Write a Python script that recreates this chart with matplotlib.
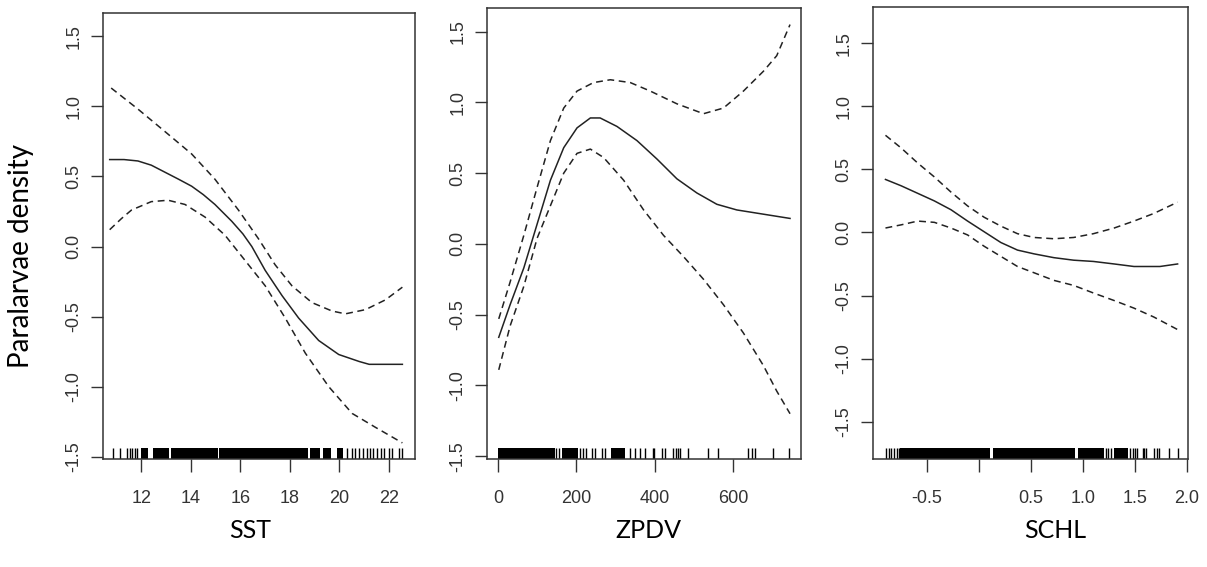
import matplotlib
matplotlib.use("Agg")
import matplotlib.pyplot as plt

# ---- SST panel ----
sst_fit_x = [10.72, 11.3, 11.86, 12.4, 12.95, 13.5, 14.03, 14.5, 14.97, 15.65, 16.1, 16.46, 17.0, 17.68,
             18.35, 19.16, 19.97, 20.8, 21.2, 22.54]
sst_fit_y = [0.62, 0.62, 0.61, 0.58, 0.53, 0.48, 0.43, 0.37, 0.30, 0.18, 0.09, 0.0, -0.17, -0.35,
             -0.51, -0.67, -0.77, -0.82, -0.84, -0.84]
sst_up_x = [10.78, 11.86, 12.95, 14.03, 14.97, 15.92, 16.73, 17.4, 18.08, 18.89, 19.7, 20.24, 21.05, 21.86, 22.54]
sst_up_y = [1.13, 0.98, 0.82, 0.66, 0.48, 0.26, 0.055, -0.13, -0.28, -0.40, -0.46, -0.48, -0.45, -0.38, -0.29]
sst_lo_x = [10.72, 11.2, 11.6, 12.4, 13.08, 13.76, 14.57, 15.38, 16.19, 17.0, 17.81, 18.62, 19.57, 20.51, 21.46, 22.54]
sst_lo_y = [0.12, 0.20, 0.26, 0.32, 0.33, 0.30, 0.21, 0.08, -0.10, -0.28, -0.51, -0.76, -1.0, -1.19, -1.29, -1.40]
sst_rug = [10.85, 11.12, 11.43, 11.53, 11.64, 11.74, 11.84, 20.32, 20.49, 20.63, 20.80, 20.94, 21.10,
           21.24, 21.37, 21.53, 21.67, 21.8, 22.0, 22.14, 22.39, 22.52]
sst_rug_blocks = [(11.97, 12.28), (12.47, 13.10), (13.2, 15.08), (15.15, 18.73), (18.8, 19.2),
                  (19.34, 19.64), (19.91, 20.15)]
sst_ticks = [12, 14, 16, 18, 20, 22]
sst_labels = ["12", "14", "16", "18", "20", "22"]

# ---- ZPDV panel ----
zp_fit_x = [2, 31, 66, 100, 134, 168, 202, 236, 261, 304, 355, 406, 457, 508, 559, 610, 678, 746]
zp_fit_y = [-0.66, -0.43, -0.17, 0.14, 0.45, 0.68, 0.82, 0.89, 0.89, 0.83, 0.73, 0.60, 0.46, 0.36,
            0.28, 0.24, 0.21, 0.18]
zp_up_x = [2, 31, 66, 100, 134, 168, 202, 244, 287, 338, 389, 457, 525, 576, 627, 678, 712, 746]
zp_up_y = [-0.53, -0.27, 0.06, 0.40, 0.73, 0.96, 1.08, 1.14, 1.16, 1.14, 1.08, 0.99, 0.92, 0.96,
           1.08, 1.22, 1.33, 1.55]
zp_lo_x = [2, 31, 66, 100, 134, 168, 202, 236, 270, 321, 372, 423, 474, 525, 576, 627, 678, 712, 746]
zp_lo_y = [-0.89, -0.58, -0.30, 0.04, 0.27, 0.50, 0.64, 0.67, 0.61, 0.45, 0.24, 0.06, -0.09, -0.25,
           -0.43, -0.63, -0.86, -1.04, -1.20]
zp_rug = [148, 157, 209, 216, 225, 239, 248, 267, 273, 337, 350, 363, 375, 397, 399, 420, 426, 448,
          454, 460, 465, 486, 537, 562, 639, 648, 656, 703, 744]
zp_rug_blocks = [(1, 146), (163, 205), (288, 324)]
zp_ticks = [0, 200, 400, 600]
zp_labels = ["0", "200", "400", "600"]

# ---- SCHL panel ----
sc_fit_x = [-0.90, -0.75, -0.59, -0.43, -0.27, -0.11, 0.05, 0.21, 0.37, 0.53, 0.72, 0.91, 1.10,
            1.30, 1.49, 1.74, 1.91]
sc_fit_y = [0.42, 0.37, 0.31, 0.25, 0.18, 0.09, 0.005, -0.08, -0.14, -0.17, -0.20, -0.22, -0.23,
            -0.25, -0.27, -0.27, -0.25]
sc_up_x = [-0.90, -0.75, -0.59, -0.43, -0.27, -0.11, 0.05, 0.21, 0.37, 0.53, 0.72, 0.91, 1.10,
           1.30, 1.49, 1.68, 1.91]
sc_up_y = [0.77, 0.67, 0.55, 0.44, 0.32, 0.21, 0.12, 0.05, -0.01, -0.04, -0.05, -0.04, -0.01,
           0.035, 0.09, 0.15, 0.24]
sc_lo_x = [-0.90, -0.75, -0.59, -0.43, -0.27, -0.11, 0.05, 0.21, 0.37, 0.53, 0.72, 0.91, 1.10,
           1.30, 1.49, 1.68, 1.91]
sc_lo_y = [0.035, 0.06, 0.09, 0.08, 0.035, -0.02, -0.11, -0.19, -0.27, -0.32, -0.38, -0.42, -0.48,
           -0.54, -0.60, -0.67, -0.77]
sc_rug = [-0.894, -0.868, -0.846, -0.814, -0.788, -0.766, 1.22, 1.243, 1.27, 1.455, 1.478, 1.50,
          1.52, 1.574, 1.59, 1.606, 1.686, 1.71, 1.734, 1.83, 1.91]
sc_rug_blocks = [(-0.757, 0.109), (0.132, 0.926), (0.955, 1.205), (1.295, 1.43)]
sc_ticks = [-0.5, 0.0, 0.5, 1.0, 1.5, 2.0]
sc_labels = ["-0.5", "", "0.5", "1.0", "1.5", "2.0"]

y_ticks = [-1.5, -1.0, -0.5, 0.0, 0.5, 1.0, 1.5]
y_labels = ["-1.5", "-1.0", "-0.5", "0.0", "0.5", "1.0", "1.5"]

W, H = 1207, 567
fig = plt.figure(figsize=(W / 100, H / 100), dpi=100)

line_col = "#222222"
dash = (0, (4.5, 3))
label_font = "Lato"

panels = [
    # name, px box (left, right, top, bottom), xlim, ylim, label x centre, data
    ("SST", (103, 415, 13, 459), (10.45, 23.05), (-1.515, 1.665), 250,
     sst_fit_x, sst_fit_y, sst_up_x, sst_up_y, sst_lo_x, sst_lo_y,
     sst_rug, sst_rug_blocks, sst_ticks, sst_labels),
    ("ZPDV", (487, 801, 8, 459), (-28, 774), (-1.52, 1.667), 648,
     zp_fit_x, zp_fit_y, zp_up_x, zp_up_y, zp_lo_x, zp_lo_y,
     zp_rug, zp_rug_blocks, zp_ticks, zp_labels),
    ("SCHL", (873, 1188, 7, 459), (-1.02, 2.01), (-1.796, 1.787), 1055,
     sc_fit_x, sc_fit_y, sc_up_x, sc_up_y, sc_lo_x, sc_lo_y,
     sc_rug, sc_rug_blocks, sc_ticks, sc_labels),
]

for (name, box, xlim, ylim, lab_x, fx, fy, ux, uy, lx, ly, rug, blocks, xt, xl) in panels:
    l, r, t, b = box
    ax = fig.add_axes([l / W, (H - b) / H, (r - l) / W, (b - t) / H])
    ax.plot(fx, fy, color=line_col, lw=1.1)
    ax.plot(ux, uy, color=line_col, lw=1.1, linestyle=dash)
    ax.plot(lx, ly, color=line_col, lw=1.1, linestyle=dash)

    rug_h = 11 / (b - t)
    ax.vlines(rug, 0, rug_h, color="black", lw=1.0, transform=ax.get_xaxis_transform())
    for a0, a1 in blocks:
        ax.axvspan(a0, a1, 0, rug_h, color="black", lw=0)

    ax.set_xlim(*xlim)
    ax.set_ylim(*ylim)
    ax.set_xticks(xt)
    ax.set_xticklabels(xl)
    ax.set_yticks(y_ticks)
    ax.set_yticklabels(y_labels, rotation=90, va="center")
    for s in ax.spines.values():
        s.set_color("#333333")
        s.set_linewidth(1.1)
    ax.tick_params(axis="both", direction="out", length=9, width=1.0, color="#333333",
                   labelsize=13, labelcolor="#333333")
    ax.tick_params(axis="x", pad=13)
    ax.tick_params(axis="y", pad=6)
    for lab in ax.get_xticklabels() + ax.get_yticklabels():
        lab.set_family("Liberation Sans")

    fig.text(lab_x / W, (H - 530) / H, name, family=label_font, fontsize=18,
             ha="center", va="center")

fig.text(21 / W, (H - 256) / H, "Paralarvae density", rotation=90, family=label_font,
         fontsize=20, ha="center", va="center")

fig.savefig("out.png", dpi=100)
